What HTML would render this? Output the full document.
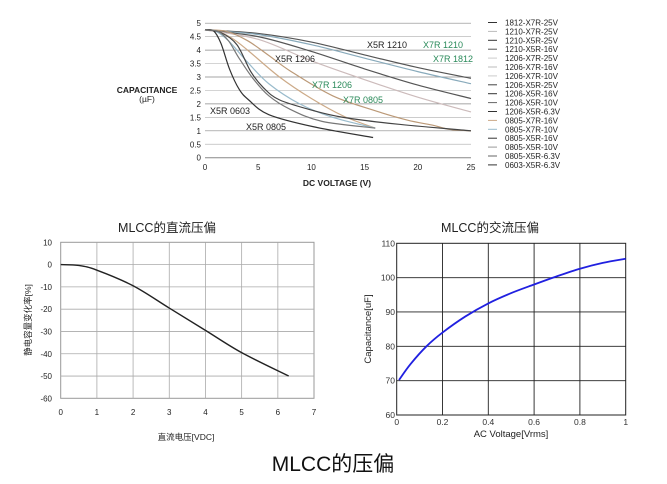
<!DOCTYPE html>
<html><head><meta charset="utf-8"><style>
html,body{margin:0;padding:0;background:#fff;}
svg{display:block;font-family:"Liberation Sans","Noto Sans CJK SC",sans-serif;}
</style></head><body>
<svg id="s" width="667" height="484" viewBox="0 0 667 484" xmlns="http://www.w3.org/2000/svg">
<rect width="667" height="484" fill="#fff"/>
<g id="top"></g>
<g font-size="8" fill="#222">
<text x="147" y="93" text-anchor="middle" font-weight="bold" font-size="8.5">CAPACITANCE</text>
<text x="147" y="102" text-anchor="middle" font-size="8.5">(µF)</text>
<text x="337" y="186" text-anchor="middle" font-weight="bold" font-size="8.5">DC VOLTAGE (V)</text>
</g>
<g font-size="9" fill="#222">
<text x="367" y="48">X5R 1210</text>
<text x="423" y="48" fill="#2a8a5a">X7R 1210</text>
<text x="433" y="62" fill="#2a8a5a">X7R 1812</text>
<text x="275" y="62">X5R 1206</text>
<text x="312" y="88" fill="#2a8a5a">X7R 1206</text>
<text x="343" y="103" fill="#2a8a5a">X7R 0805</text>
<text x="210" y="114">X5R 0603</text>
<text x="246" y="130">X5R 0805</text>
</g>
<g id="leg" font-size="8" fill="#222"></g>
<g id="left"></g>
<g id="right"></g>
<text x="167" y="232" text-anchor="middle" font-size="12.5" fill="#222">MLCC的直流压偏</text>
<text x="490" y="232" text-anchor="middle" font-size="12.5" fill="#222">MLCC的交流压偏</text>
<text x="186" y="440" text-anchor="middle" font-size="8.5" fill="#222">直流电压[VDC]</text>
<text x="511" y="437" text-anchor="middle" font-size="9.5" fill="#222">AC Voltage[Vrms]</text>
<text transform="translate(31,320) rotate(-90)" text-anchor="middle" font-size="8.5" fill="#222">静电容量变化率[%]</text>
<text transform="translate(371,329) rotate(-90)" text-anchor="middle" font-size="9.5" fill="#222">Capacitance[uF]</text>
<text x="333" y="471" text-anchor="middle" font-size="21" fill="#111">MLCC的压偏</text>
</svg>
<script>
var NS="http://www.w3.org/2000/svg";
function el(p,t,a,txt){var e=document.createElementNS(NS,t);for(var k in a)e.setAttribute(k,a[k]);if(txt!==undefined)e.textContent=txt;p.appendChild(e);return e;}
function smooth(pts){var d="M"+pts[0][0].toFixed(1)+","+pts[0][1].toFixed(1);
for(var i=0;i<pts.length-1;i++){var p0=pts[i-1]||pts[i],p1=pts[i],p2=pts[i+1],p3=pts[i+2]||p2;
var c1=[p1[0]+(p2[0]-p0[0])/6,p1[1]+(p2[1]-p0[1])/6],c2=[p2[0]-(p3[0]-p1[0])/6,p2[1]-(p3[1]-p1[1])/6];
d+="C"+c1.join(",")+" "+c2.join(",")+" "+p2.join(",");}return d;}
var T=document.getElementById("top");
var tx=function(v){return 205+v*10.64},ty=function(c){return 157.7-c*26.9};
for(var c=0;c<=5;c+=0.5){el(T,"line",{x1:205,x2:471,y1:ty(c),y2:ty(c),stroke:c%1?"#bbb":"#888","stroke-width":c==0?1:0.7});
el(T,"text",{x:201,y:ty(c)+3,"text-anchor":"end","font-size":8,fill:"#222"},String(c));}
[0,5,10,15,20,25].forEach(function(v){el(T,"text",{x:tx(v),y:170,"text-anchor":"middle","font-size":8,fill:"#222"},String(v));});
var curves=[
["#555",[[0,4.75],[5,4.62],[10,4.3],[15,3.82],[20,3.35],[25,2.95]]],
["#8ab",[[0,4.75],[5,4.58],[10,4.2],[15,3.7],[20,3.2],[25,2.75]]],
["#555",[[0,4.75],[5,4.5],[10,3.95],[15,3.3],[20,2.7],[25,2.2]]],
["#cbb",[[0,4.75],[5,4.4],[10,3.6],[15,2.9],[20,2.25],[25,1.7]]],
["#b97",[[0,4.75],[2,4.7],[4,4.35],[6,3.8],[8.1,3.2],[12,2.3],[15.8,1.77],[19,1.4],[21.5,1.2],[23,1.05],[25,1.0]]],
["#ca8",[[0,4.75],[1,4.72],[2.5,4.45],[4,4.0],[7,3.0],[10,2.2],[13,1.55],[16,1.1]]],
["#9bc",[[0,4.75],[1,4.7],[2.2,4.35],[4,3.55],[6,2.75],[8.9,2.0],[12,1.5],[16,1.1]]],
["#444",[[0,4.75],[1.5,4.65],[3,4.2],[4.3,3.2],[5.5,2.6],[7,2.15],[10.2,1.75],[13,1.5],[18,1.25],[25,1.0]]],
["#333",[[0,4.75],[0.8,4.72],[1.5,4.25],[2.3,3.3],[3.2,2.55],[4.1,2.15],[6,1.6],[10.2,1.15],[15.8,0.75]]],
["#777",[[0,4.75],[1.2,4.7],[2.2,4.35],[3.2,3.7],[4.5,2.95],[6,2.3],[8,1.8],[11,1.35],[16,1.1]]]];
curves.forEach(function(c){el(T,"path",{d:smooth(c[1].map(function(p){return[tx(p[0]),ty(p[1])]})),fill:"none",stroke:c[0],"stroke-width":1.2});});
var L=document.getElementById("leg");
var names=["1812-X7R-25V","1210-X7R-25V","1210-X5R-25V","1210-X5R-16V","1206-X7R-25V","1206-X7R-16V","1206-X7R-10V","1206-X5R-25V","1206-X5R-16V","1206-X5R-10V","1206-X5R-6.3V","0805-X7R-16V","0805-X7R-10V","0805-X5R-16V","0805-X5R-10V","0805-X5R-6.3V","0603-X5R-6.3V"];
var lc=["#333","#bbb","#333","#555","#ccc","#bbb","#ccc","#444","#333","#666","#333","#ca8","#9bc","#333","#999","#666","#333"];
names.forEach(function(n,i){var y=22.5+i*8.9;el(L,"line",{x1:488,x2:497,y1:y,y2:y,stroke:lc[i],"stroke-width":1});el(L,"text",{x:505,y:y+3},n);});
var G=document.getElementById("left");
var lx=function(v){return 60.7+v*36.19},ly=function(p){return 242.3+(10-p)*2.229};
el(G,"rect",{x:60.7,y:242.3,width:253.3,height:156,fill:"#fff",stroke:"#999","stroke-width":1});
for(var i=1;i<7;i++)el(G,"line",{x1:lx(i),x2:lx(i),y1:242.3,y2:398.3,stroke:"#aaa","stroke-width":0.8});
for(var p=0;p>-60;p-=10)el(G,"line",{x1:60.7,x2:314,y1:ly(p),y2:ly(p),stroke:"#aaa","stroke-width":0.8});
for(var p=10;p>=-60;p-=10)el(G,"text",{x:52,y:ly(p)+3,"text-anchor":"end","font-size":8,fill:"#222"},String(p));
for(var i=0;i<=7;i++)el(G,"text",{x:lx(i),y:415,"text-anchor":"middle","font-size":8,fill:"#222"},String(i));
el(G,"path",{d:smooth([[0,0],[0.5,-0.4],[1,-2.5],[2,-9.5],[3,-19.5],[4,-29.5],[5,-39.5],[6.3,-50]].map(function(q){return[lx(q[0]),ly(q[1])]})),fill:"none",stroke:"#222","stroke-width":1.4});
var R=document.getElementById("right");
var rx=function(v){return 396.7+v*229},ry=function(c){return 415-(c-60)*3.434};
el(R,"rect",{x:396.7,y:243.3,width:229,height:171.7,fill:"#fff",stroke:"#222","stroke-width":1});
for(var i=1;i<5;i++)el(R,"line",{x1:rx(i*0.2),x2:rx(i*0.2),y1:243.3,y2:415,stroke:"#222","stroke-width":0.9});
for(var c=70;c<110;c+=10)el(R,"line",{x1:396.7,x2:625.7,y1:ry(c),y2:ry(c),stroke:"#222","stroke-width":0.9});
for(var c=60;c<=110;c+=10)el(R,"text",{x:395,y:ry(c)+3,"text-anchor":"end","font-size":8.5,fill:"#333"},String(c));
["0","0.2","0.4","0.6","0.8","1"].forEach(function(t,i){el(R,"text",{x:rx(i*0.2),y:425,"text-anchor":"middle","font-size":8.5,fill:"#333"},t);});
el(R,"path",{d:smooth([[0.01,70.2],[0.06,74.8],[0.13,80],[0.2,84],[0.3,88.7],[0.4,92.5],[0.5,95.5],[0.6,98],[0.7,100.4],[0.8,102.6],[0.9,104.3],[1,105.5]].map(function(q){return[rx(q[0]),ry(q[1])]})),fill:"none",stroke:"#2020e0","stroke-width":1.8});
</script>
</body></html>
